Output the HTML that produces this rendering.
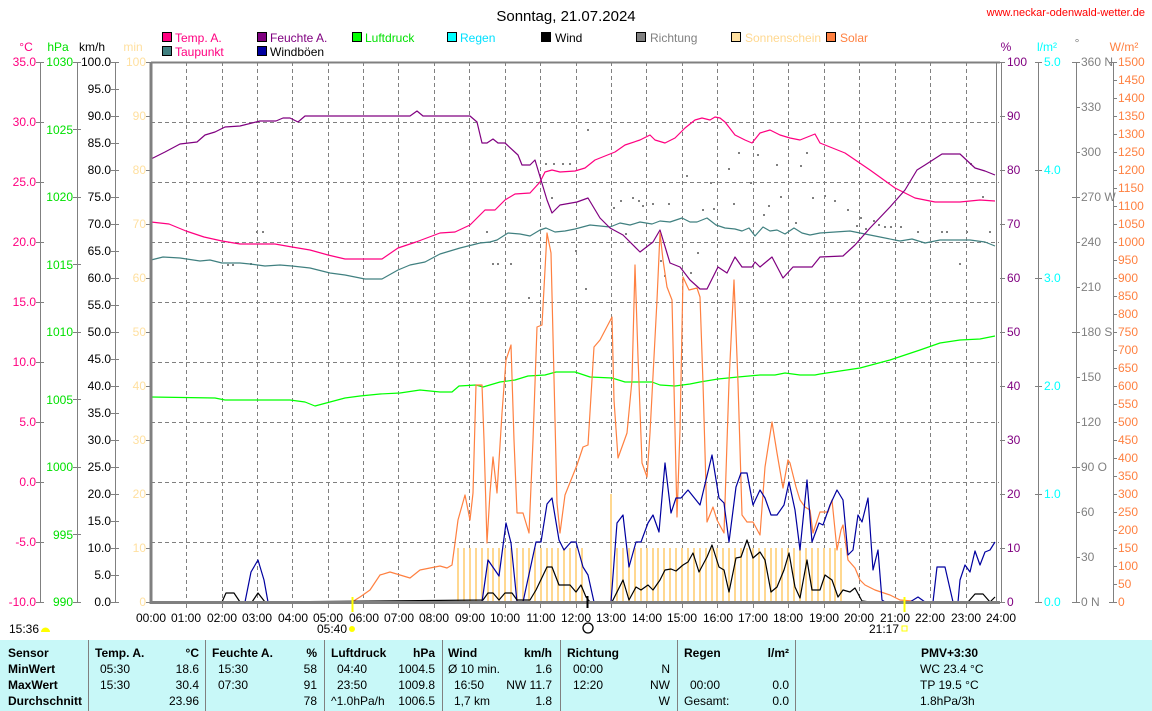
<!DOCTYPE html>
<html><head><meta charset="utf-8"><style>
body{margin:0;background:#fff;}
svg{display:block;font-family:"Liberation Sans",sans-serif;}
.t{font-size:12px;}
</style></head><body>
<svg width="1152" height="711" viewBox="0 0 1152 711" xmlns="http://www.w3.org/2000/svg">
<rect width="1152" height="711" fill="#fff"/>
<text x="566" y="21" font-size="15" text-anchor="middle" fill="#000">Sonntag, 21.07.2024</text>
<text x="1145" y="16" font-size="11" text-anchor="end" fill="#ff0000">www.neckar-odenwald-wetter.de</text>
<!-- legend -->
<g class="t">
<rect x="162.5" y="32.5" width="9" height="9" fill="#ff0080" stroke="#000"/><text x="175" y="42" fill="#ff0080">Temp. A.</text>
<rect x="162.5" y="46.5" width="9" height="9" fill="#408080" stroke="#000"/><text x="175" y="56" fill="#ff0080">Taupunkt</text>
<rect x="257.5" y="32.5" width="9" height="9" fill="#800080" stroke="#000"/><text x="270" y="42" fill="#800080">Feuchte A.</text>
<rect x="257.5" y="46.5" width="9" height="9" fill="#0000a0" stroke="#000"/><text x="270" y="56" fill="#000">Windböen</text>
<rect x="352.5" y="32.5" width="9" height="9" fill="#00ff00" stroke="#000"/><text x="365" y="42" fill="#00e000">Luftdruck</text>
<rect x="447.5" y="32.5" width="9" height="9" fill="#00ffff" stroke="#000"/><text x="460" y="42" fill="#00e0ff">Regen</text>
<rect x="541.5" y="32.5" width="9" height="9" fill="#000" stroke="#000"/><text x="555" y="42" fill="#000">Wind</text>
<rect x="636.5" y="32.5" width="9" height="9" fill="#808080" stroke="#000"/><text x="650" y="42" fill="#808080">Richtung</text>
<rect x="731.5" y="32.5" width="9" height="9" fill="#ffe0a0" stroke="#000"/><text x="745" y="42" fill="#ffd890">Sonnenschein</text>
<rect x="826.5" y="32.5" width="9" height="9" fill="#ff8040" stroke="#000"/><text x="840" y="42" fill="#ff8040">Solar</text>
<text x="26" y="51" text-anchor="middle" fill="#ff0080">°C</text>
<text x="58" y="51" text-anchor="middle" fill="#00e000">hPa</text>
<text x="92" y="51" text-anchor="middle" fill="#000">km/h</text>
<text x="133" y="51" text-anchor="middle" fill="#ffe0a0">min</text>
<text x="1006" y="51" text-anchor="middle" fill="#800080">%</text>
<text x="1047" y="51" text-anchor="middle" fill="#00ffff">l/m²</text>
<text x="1077" y="47" text-anchor="middle" fill="#808080">°</text>
<text x="1124" y="51" text-anchor="middle" fill="#ff8040">W/m²</text>
</g>
<!-- grid -->
<g stroke="#808080" stroke-dasharray="4,3" stroke-width="1">
<path d="M151 122.5H999M151 182.5H999M151 242.5H999M151 302.5H999M151 362.5H999M151 422.5H999M151 482.5H999M151 542.5H999"/>
<path d="M186.5 62V602M222.5 62V602M257.5 62V602M292.5 62V602M328.5 62V602M363.5 62V602M398.5 62V602M434.5 62V602M469.5 62V602M505.5 62V602M540.5 62V602M576.5 62V602M611.5 62V602M646.5 62V602M682.5 62V602M717.5 62V602M753.5 62V602M788.5 62V602M824.5 62V602M859.5 62V602M895.5 62V602M930.5 62V602M966.5 62V602"/>
</g>
<!-- left axes -->
<g stroke="#808080" fill="none">
<path d="M40.5 62V602M77.5 62V602M115.5 62V602M150 62V604"/>
<path d="M36 62.5h8M36 122.5h8M36 182.5h8M36 242.5h8M36 302.5h8M36 362.5h8M36 422.5h8M36 482.5h8M36 542.5h8M36 602.5h8"/>
<path d="M73 62.5h8M73 129.5h8M73 197.5h8M73 264.5h8M73 332.5h8M73 399.5h8M73 467.5h8M73 534.5h8M73 602.5h8"/>
<path d="M111 62.5h8M111 89.5h8M111 116.5h8M111 143.5h8M111 170.5h8M111 197.5h8M111 224.5h8M111 251.5h8M111 278.5h8M111 305.5h8M111 332.5h8M111 359.5h8M111 386.5h8M111 413.5h8M111 440.5h8M111 467.5h8M111 494.5h8M111 521.5h8M111 548.5h8M111 575.5h8M111 602.5h8"/>
<path d="M146 62.5h4M146 116.5h4M146 170.5h4M146 224.5h4M146 278.5h4M146 332.5h4M146 386.5h4M146 440.5h4M146 494.5h4M146 548.5h4M146 602.5h4"/>
</g>
<g class="t" text-anchor="end" fill="#ff0080">
<text x="36" y="66">35.0</text><text x="36" y="126">30.0</text><text x="36" y="186">25.0</text><text x="36" y="246">20.0</text><text x="36" y="306">15.0</text><text x="36" y="366">10.0</text><text x="36" y="426">5.0</text><text x="36" y="486">0.0</text><text x="36" y="546">-5.0</text><text x="36" y="606">-10.0</text>
</g>
<g class="t" text-anchor="end" fill="#00e000">
<text x="73" y="66">1030</text><text x="73" y="134">1025</text><text x="73" y="201">1020</text><text x="73" y="269">1015</text><text x="73" y="336">1010</text><text x="73" y="404">1005</text><text x="73" y="471">1000</text><text x="73" y="539">995</text><text x="73" y="606">990</text>
</g>
<g class="t" text-anchor="end" fill="#000">
<text x="111" y="66">100.0</text><text x="111" y="93">95.0</text><text x="111" y="120">90.0</text><text x="111" y="147">85.0</text><text x="111" y="174">80.0</text><text x="111" y="201">75.0</text><text x="111" y="228">70.0</text><text x="111" y="255">65.0</text><text x="111" y="282">60.0</text><text x="111" y="309">55.0</text><text x="111" y="336">50.0</text><text x="111" y="363">45.0</text><text x="111" y="390">40.0</text><text x="111" y="417">35.0</text><text x="111" y="444">30.0</text><text x="111" y="471">25.0</text><text x="111" y="498">20.0</text><text x="111" y="525">15.0</text><text x="111" y="552">10.0</text><text x="111" y="579">5.0</text><text x="111" y="606">0.0</text>
</g>
<g class="t" text-anchor="end" fill="#ffe0a0">
<text x="146" y="66">100</text><text x="146" y="120">90</text><text x="146" y="174">80</text><text x="146" y="228">70</text><text x="146" y="282">60</text><text x="146" y="336">50</text><text x="146" y="390">40</text><text x="146" y="444">30</text><text x="146" y="498">20</text><text x="146" y="552">10</text><text x="146" y="606">0</text>
</g>
<!-- right axes -->
<g stroke="#808080" fill="none">
<path d="M1001.5 62V602M1038.5 62V602M1076.5 62V602M1113.5 62V602"/>
<path d="M1000 62.5h5M1000 116.5h5M1000 170.5h5M1000 224.5h5M1000 278.5h5M1000 332.5h5M1000 386.5h5M1000 440.5h5M1000 494.5h5M1000 548.5h5M1000 602.5h5"/>
<path d="M1035 62.5h7M1035 170.5h7M1035 278.5h7M1035 386.5h7M1035 494.5h7M1035 602.5h7"/>
<path d="M1072 62.5h8M1076 107.5h4M1076 152.5h4M1072 197.5h8M1076 242.5h4M1076 287.5h4M1072 332.5h8M1076 377.5h4M1076 422.5h4M1072 467.5h8M1076 512.5h4M1076 557.5h4M1072 602.5h8"/>
<path d="M1109 62.5h8M1113 80.5h4M1113 98.5h4M1113 116.5h4M1113 134.5h4M1113 152.5h4M1113 170.5h4M1113 188.5h4M1113 206.5h4M1113 224.5h4M1113 242.5h4M1113 260.5h4M1113 278.5h4M1113 296.5h4M1113 314.5h4M1113 332.5h4M1113 350.5h4M1113 368.5h4M1113 386.5h4M1113 404.5h4M1113 422.5h4M1113 440.5h4M1113 458.5h4M1113 476.5h4M1113 494.5h4M1113 512.5h4M1113 530.5h4M1113 548.5h4M1113 566.5h4M1113 584.5h4M1109 602.5h8"/>
</g>
<g class="t" fill="#800080">
<text x="1007" y="66">100</text><text x="1007" y="120">90</text><text x="1007" y="174">80</text><text x="1007" y="228">70</text><text x="1007" y="282">60</text><text x="1007" y="336">50</text><text x="1007" y="390">40</text><text x="1007" y="444">30</text><text x="1007" y="498">20</text><text x="1007" y="552">10</text><text x="1007" y="606">0</text>
</g>
<g class="t" fill="#00ffff">
<text x="1044" y="66">5.0</text><text x="1044" y="174">4.0</text><text x="1044" y="282">3.0</text><text x="1044" y="390">2.0</text><text x="1044" y="498">1.0</text><text x="1044" y="606">0.0</text>
</g>
<g class="t" fill="#808080">
<text x="1081" y="66">360 N</text><text x="1081" y="111">330</text><text x="1081" y="156">300</text><text x="1081" y="201">270 W</text><text x="1081" y="246">240</text><text x="1081" y="291">210</text><text x="1081" y="336">180 S</text><text x="1081" y="381">150</text><text x="1081" y="426">120</text><text x="1081" y="471">90 O</text><text x="1081" y="516">60</text><text x="1081" y="561">30</text><text x="1081" y="606">0 N</text>
</g>
<g class="t" fill="#ff8040">
<text x="1118" y="66">1500</text><text x="1118" y="84">1450</text><text x="1118" y="102">1400</text><text x="1118" y="120">1350</text><text x="1118" y="138">1300</text><text x="1118" y="156">1250</text><text x="1118" y="174">1200</text><text x="1118" y="192">1150</text><text x="1118" y="210">1100</text><text x="1118" y="228">1050</text><text x="1118" y="246">1000</text><text x="1118" y="264">950</text><text x="1118" y="282">900</text><text x="1118" y="300">850</text><text x="1118" y="318">800</text><text x="1118" y="336">750</text><text x="1118" y="354">700</text><text x="1118" y="372">650</text><text x="1118" y="390">600</text><text x="1118" y="408">550</text><text x="1118" y="426">500</text><text x="1118" y="444">450</text><text x="1118" y="462">400</text><text x="1118" y="480">350</text><text x="1118" y="498">300</text><text x="1118" y="516">250</text><text x="1118" y="534">200</text><text x="1118" y="552">150</text><text x="1118" y="570">100</text><text x="1118" y="588">50</text><text x="1118" y="606">0</text>
</g>
<!-- sunshine bars -->
<g fill="#ffd890">
<rect x="457" y="548" width="2" height="54"/><rect x="463" y="548" width="2" height="54"/><rect x="469" y="548" width="2" height="54"/><rect x="475" y="548" width="2" height="54"/><rect x="481" y="548" width="2" height="54"/><rect x="487" y="548" width="2" height="54"/><rect x="492" y="548" width="2" height="54"/><rect x="498" y="548" width="2" height="54"/><rect x="504" y="548" width="2" height="54"/><rect x="510" y="548" width="2" height="54"/><rect x="516" y="548" width="2" height="54"/><rect x="522" y="548" width="2" height="54"/><rect x="528" y="548" width="2" height="54"/><rect x="534" y="548" width="2" height="54"/><rect x="540" y="548" width="2" height="54"/><rect x="546" y="548" width="2" height="54"/><rect x="551" y="548" width="2" height="54"/><rect x="557" y="548" width="2" height="54"/><rect x="563" y="548" width="2" height="54"/><rect x="569" y="548" width="2" height="54"/><rect x="575" y="548" width="2" height="54"/><rect x="581" y="548" width="2" height="54"/>
<rect x="610" y="494" width="2" height="108"/><rect x="616" y="548" width="2" height="54"/><rect x="622" y="548" width="2" height="54"/><rect x="628" y="548" width="2" height="54"/><rect x="634" y="548" width="2" height="54"/><rect x="640" y="548" width="2" height="54"/><rect x="646" y="548" width="2" height="54"/><rect x="652" y="548" width="2" height="54"/><rect x="657" y="548" width="2" height="54"/><rect x="663" y="548" width="2" height="54"/><rect x="669" y="548" width="2" height="54"/><rect x="675" y="548" width="2" height="54"/><rect x="681" y="548" width="2" height="54"/><rect x="687" y="548" width="2" height="54"/><rect x="693" y="548" width="2" height="54"/><rect x="699" y="548" width="2" height="54"/><rect x="705" y="548" width="2" height="54"/><rect x="711" y="548" width="2" height="54"/><rect x="716" y="548" width="2" height="54"/><rect x="722" y="548" width="2" height="54"/><rect x="728" y="548" width="2" height="54"/><rect x="734" y="548" width="2" height="54"/><rect x="740" y="548" width="2" height="54"/><rect x="746" y="548" width="2" height="54"/><rect x="752" y="548" width="2" height="54"/><rect x="758" y="548" width="2" height="54"/><rect x="764" y="548" width="2" height="54"/><rect x="770" y="548" width="2" height="54"/><rect x="775" y="548" width="2" height="54"/><rect x="781" y="548" width="2" height="54"/><rect x="787" y="548" width="2" height="54"/><rect x="793" y="548" width="2" height="54"/><rect x="799" y="548" width="2" height="54"/><rect x="805" y="548" width="2" height="54"/><rect x="811" y="548" width="2" height="54"/><rect x="817" y="548" width="2" height="54"/><rect x="823" y="548" width="2" height="54"/><rect x="829" y="548" width="2" height="54"/><rect x="834" y="548" width="2" height="54"/><rect x="840" y="548" width="2" height="54"/>
</g>
<!-- direction dots -->
<g fill="#808080">
<rect x="232" y="264" width="2" height="2"/><rect x="227" y="264" width="2" height="2"/><rect x="250" y="263" width="2" height="2"/><rect x="256" y="231" width="2" height="2"/><rect x="262" y="231" width="2" height="2"/>
<rect x="486" y="231" width="2" height="2"/><rect x="492" y="263" width="2" height="2"/><rect x="497" y="263" width="2" height="2"/><rect x="510" y="263" width="2" height="2"/><rect x="528" y="297" width="2" height="2"/>
<rect x="545" y="163" width="2" height="2"/><rect x="553" y="163" width="2" height="2"/><rect x="562" y="163" width="2" height="2"/><rect x="569" y="163" width="2" height="2"/><rect x="587" y="129" width="2" height="2"/><rect x="551" y="197" width="2" height="2"/>
<rect x="575" y="250" width="2" height="2"/><rect x="585" y="288" width="2" height="2"/><rect x="613" y="207" width="2" height="2"/><rect x="620" y="200" width="2" height="2"/><rect x="625" y="233" width="2" height="2"/><rect x="632" y="197" width="2" height="2"/><rect x="638" y="200" width="2" height="2"/><rect x="642" y="205" width="2" height="2"/><rect x="652" y="203" width="2" height="2"/><rect x="660" y="260" width="2" height="2"/><rect x="664" y="275" width="2" height="2"/><rect x="668" y="203" width="2" height="2"/><rect x="686" y="175" width="2" height="2"/><rect x="690" y="272" width="2" height="2"/><rect x="697" y="252" width="2" height="2"/><rect x="702" y="209" width="2" height="2"/><rect x="710" y="182" width="2" height="2"/><rect x="713" y="208" width="2" height="2"/><rect x="728" y="168" width="2" height="2"/><rect x="733" y="203" width="2" height="2"/><rect x="738" y="152" width="2" height="2"/><rect x="750" y="182" width="2" height="2"/><rect x="757" y="154" width="2" height="2"/><rect x="763" y="214" width="2" height="2"/><rect x="768" y="205" width="2" height="2"/><rect x="776" y="164" width="2" height="2"/><rect x="780" y="196" width="2" height="2"/><rect x="795" y="222" width="2" height="2"/><rect x="800" y="165" width="2" height="2"/><rect x="806" y="152" width="2" height="2"/><rect x="812" y="197" width="2" height="2"/>
<rect x="824" y="195" width="2" height="2"/><rect x="834" y="200" width="2" height="2"/><rect x="847" y="209" width="2" height="2"/><rect x="856" y="225" width="2" height="2"/><rect x="860" y="217" width="2" height="2"/><rect x="865" y="228" width="2" height="2"/><rect x="873" y="220" width="2" height="2"/><rect x="878" y="224" width="2" height="2"/><rect x="884" y="226" width="2" height="2"/><rect x="890" y="226" width="2" height="2"/><rect x="900" y="226" width="2" height="2"/><rect x="917" y="231" width="2" height="2"/><rect x="941" y="231" width="2" height="2"/><rect x="946" y="231" width="2" height="2"/><rect x="966" y="231" width="2" height="2"/><rect x="989" y="231" width="2" height="2"/><rect x="959" y="263" width="2" height="2"/><rect x="982" y="196" width="2" height="2"/><rect x="970" y="163" width="2" height="2"/>
</g>
<!-- series -->
<g fill="none" stroke-width="1.2" stroke-linejoin="round">
<polyline stroke="#00ff00" points="151,397 215,398 225,400 290,400 305,402 315,406 330,402 345,398 360,396 380,394 400,393 420,390 440,392 452,392 459,386 476,385 483,387 500,382 515,380 528,376 545,375 556,372 575,372 590,377 612,378 625,382 652,382 660,385 675,386 690,384 700,382 718,379 738,377 760,375 775,375 785,373 800,375 815,375 820,374 860,368 890,360 920,350 940,343 960,340 980,339 995,336"/>
<polyline stroke="#408080" points="151,260 163,257 180,258 200,261 210,260 222,263 240,263 250,264 265,266 280,265 292,266 310,268 330,273 345,275 365,279 382,279 398,270 410,265 425,262 440,254 460,248 480,243 490,242 497,240 508,233 520,234 530,236 540,230 546,228 555,232 565,231 575,229 590,225 600,226 610,227 620,223 630,225 640,222 652,224 660,221 670,222 682,218 690,222 697,222 707,218 716,225 725,228 735,229 742,231 749,228 755,236 763,227 770,231 777,230 785,234 794,228 802,233 810,235 820,233 835,232 850,231 880,237 900,241 912,239 925,243 940,240 970,240 985,242 995,246"/>
<polyline stroke="#ff0080" points="151,222 169,224 186,231 204,237 222,241 240,244 275,244 292,247 310,250 328,255 345,259 382,259 398,248 416,242 440,233 455,232 470,225 485,210 495,210 505,200 515,194 530,193 540,182 545,172 552,170 560,172 575,171 585,168 595,160 605,156 615,152 625,145 640,140 650,135 655,140 665,143 675,138 685,128 695,120 702,118 710,120 715,117 720,118 725,122 735,135 745,140 752,143 760,133 770,130 780,135 790,138 800,140 815,134 820,143 845,153 870,170 895,188 915,198 935,202 960,202 980,200 995,201"/>
<polyline stroke="#800080" points="151,159 165,152 180,144 197,142 205,135 215,132 225,127 240,126 260,121 276,121 283,118 290,118 298,122 305,116 410,116 417,111 423,116 470,116 477,122 482,143 487,143 493,139 498,143 505,143 518,155 522,165 530,165 535,160 541,180 547,200 552,213 560,205 577,202 588,198 600,218 610,228 623,235 640,252 653,242 660,230 670,263 680,267 690,280 700,289 707,289 718,267 727,273 735,257 742,267 752,267 755,262 760,267 772,257 783,278 793,267 812,267 820,257 843,256 855,245 870,228 890,207 905,190 917,170 925,165 942,154 960,154 975,168 985,171 995,175"/>
<polyline stroke="#ff8040" points="352,602 360,597 370,590 380,575 390,572 400,575 410,578 420,570 430,568 440,566 447,568 452,565 455,543 458,520 465,495 470,520 473,493 476,385 482,385 484,440 487,543 490,493 493,457 497,493 502,413 506,360 511,345 514,440 517,513 523,513 529,533 533,440 537,327 542,325 547,233 551,253 557,503 560,533 565,495 577,465 583,447 588,445 594,347 600,340 612,317 614,400 618,458 627,433 632,380 635,265 638,357 642,463 647,477 650,433 657,300 660,233 663,260 667,287 672,300 677,517 680,430 683,277 689,290 697,288 700,297 703,383 707,522 713,507 717,520 724,533 729,382 734,280 738,383 742,515 747,522 753,522 760,535 765,467 772,422 777,453 783,488 788,460 790,463 796,487 800,500 805,507 810,510 813,533 820,512 828,512 832,500 835,530 837,550 841,530 843,525 848,560 855,568 860,580 865,585 875,590 890,595 900,600 912,601"/>
<polyline stroke="#0000a0" points="151,602 245,602 251,572 258,560 264,580 268,602 482,602 488,560 499,576 506,523 511,543 517,602 523,602 536,542 541,542 547,504 552,498 559,540 564,550 571,542 576,542 583,567 588,575 594,602 611,602 617,523 623,515 629,567 636,542 641,542 648,523 653,515 659,532 665,463 671,513 676,498 681,498 688,490 700,505 712,455 719,498 724,503 729,542 736,487 741,473 747,473 753,505 760,490 765,498 771,515 777,515 784,505 789,482 795,510 800,550 807,480 812,542 819,523 823,525 830,505 837,490 843,500 848,555 853,550 858,515 862,522 868,498 873,570 878,550 882,600 885,602 910,602 918,597 925,602 933,602 937,567 945,567 953,602 958,602 960,580 965,565 970,572 975,551 980,565 985,552 990,550 995,542"/>
<polyline stroke="#000" points="151,602 222,602 226,593 234,593 240,602 252,602 258,593 265,602 483,600 488,593 493,593 499,600 505,593 512,593 517,600 530,600 536,590 547,567 552,567 559,585 564,585 570,585 576,592 581,585 586,597 590,602 612,602 623,580 629,600 636,587 641,590 648,585 653,590 660,580 665,570 671,569 676,571 683,565 688,562 693,553 699,572 707,557 712,545 719,567 724,570 729,592 736,558 741,557 747,540 753,558 760,552 765,560 771,592 777,587 784,570 789,553 795,587 800,598 807,560 812,590 820,590 825,575 832,580 838,597 843,590 850,592 855,588 862,601 870,602 968,602 975,594 983,594 990,602 995,597"/>
</g>
<!-- frame -->
<g stroke="#808080" fill="none">
<path d="M151 62.5H1000" stroke-width="2"/>
<path d="M151 602.5H1000" stroke-width="3"/>
<path d="M151 62V604" stroke-width="3"/>
<path d="M996.5 62V602"/>
<path d="M186.5 602v6M222.5 602v6M257.5 602v6M292.5 602v6M328.5 602v6M363.5 602v6M398.5 602v6M434.5 602v6M469.5 602v6M505.5 602v6M540.5 602v6M576.5 602v6M611.5 602v6M646.5 602v6M682.5 602v6M717.5 602v6M753.5 602v6M788.5 602v6M824.5 602v6M859.5 602v6M895.5 602v6M930.5 602v6M966.5 602v6"/>
</g>
<path d="M352.5 597V612M904.5 597V612" stroke="#ffff00" stroke-width="2"/>
<path d="M587.5 596V608" stroke="#000" stroke-width="2"/>
<!-- x labels -->
<g class="t" text-anchor="middle" fill="#000">
<text x="151" y="622">00:00</text><text x="186" y="622">01:00</text><text x="222" y="622">02:00</text><text x="257" y="622">03:00</text><text x="293" y="622">04:00</text><text x="328" y="622">05:00</text><text x="364" y="622">06:00</text><text x="399" y="622">07:00</text><text x="434" y="622">08:00</text><text x="470" y="622">09:00</text><text x="505" y="622">10:00</text><text x="541" y="622">11:00</text><text x="576" y="622">12:00</text><text x="611" y="622">13:00</text><text x="647" y="622">14:00</text><text x="682" y="622">15:00</text><text x="718" y="622">16:00</text><text x="753" y="622">17:00</text><text x="788" y="622">18:00</text><text x="824" y="622">19:00</text><text x="859" y="622">20:00</text><text x="895" y="622">21:00</text><text x="930" y="622">22:00</text><text x="966" y="622">23:00</text><text x="1001" y="622">24:00</text>
<text x="332" y="633">05:40</text><text x="884" y="633">21:17</text>
<text x="24" y="633">15:36</text>
</g>
<circle cx="352" cy="629" r="3" fill="#ffff00"/>
<rect x="902" y="626" width="5" height="5" fill="none" stroke="#ffff00"/>
<path d="M41 632a4 4 0 0 1 9 0z" fill="#ffff00"/>
<circle cx="588" cy="628" r="5" fill="none" stroke="#000" stroke-width="1.3"/>
<!-- table -->
<rect x="0" y="640" width="1152" height="71" fill="#c8f8f8"/>
<g stroke="#808080" stroke-width="1"><path d="M88.5 640V711M205.5 640V711M324.5 640V711M442.5 640V711M560.5 640V711M677.5 640V711M795.5 640V711"/></g>
<g class="t" fill="#000">
<g font-weight="bold"><text x="8" y="657">Sensor</text><text x="8" y="673">MinWert</text><text x="8" y="689">MaxWert</text><text x="8" y="705">Durchschnitt</text>
<text x="95" y="657">Temp. A.</text><text x="212" y="657">Feuchte A.</text><text x="331" y="657">Luftdruck</text><text x="448" y="657">Wind</text><text x="567" y="657">Richtung</text><text x="684" y="657">Regen</text><text x="921" y="657">PMV+3:30</text>
<g text-anchor="end"><text x="199" y="657">°C</text><text x="317" y="657">%</text><text x="435" y="657">hPa</text><text x="552" y="657">km/h</text><text x="789" y="657">l/m²</text></g></g>
<text x="100" y="673">05:30</text><text x="100" y="689">15:30</text>
<text x="218" y="673">15:30</text><text x="218" y="689">07:30</text>
<text x="337" y="673">04:40</text><text x="337" y="689">23:50</text><text x="331" y="705">^1.0hPa/h</text>
<text x="448" y="673">Ø 10 min.</text><text x="454" y="689">16:50</text><text x="454" y="705">1,7 km</text>
<text x="573" y="673">00:00</text><text x="573" y="689">12:20</text>
<text x="690" y="689">00:00</text><text x="684" y="705">Gesamt:</text>
<text x="920" y="673">WC 23.4 °C</text><text x="920" y="689">TP 19.5 °C</text><text x="920" y="705">1.8hPa/3h</text>
<g text-anchor="end">
<text x="199" y="673">18.6</text><text x="199" y="689">30.4</text><text x="199" y="705">23.96</text>
<text x="317" y="673">58</text><text x="317" y="689">91</text><text x="317" y="705">78</text>
<text x="435" y="673">1004.5</text><text x="435" y="689">1009.8</text><text x="435" y="705">1006.5</text>
<text x="552" y="673">1.6</text><text x="552" y="689">NW 11.7</text><text x="552" y="705">1.8</text>
<text x="670" y="673">N</text><text x="670" y="689">NW</text><text x="670" y="705">W</text>
<text x="789" y="689">0.0</text><text x="789" y="705">0.0</text>
</g></g>
</svg>
</body></html>
